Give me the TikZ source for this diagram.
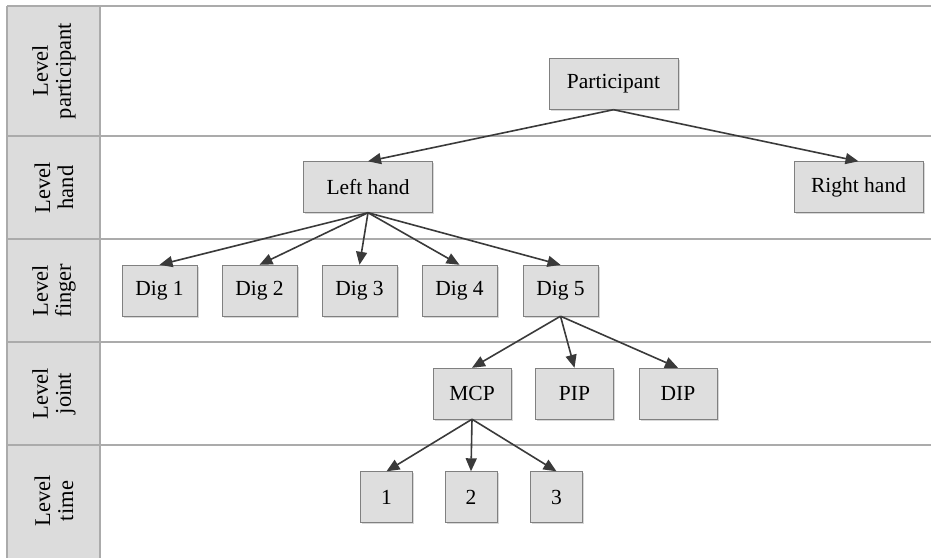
\documentclass[tikz,border=0pt]{standalone}
\usepackage{fontspec}
\setmainfont{Liberation Serif}
\usetikzlibrary{shadows,arrows.meta}
\definecolor{boxgray}{HTML}{DEDEDE}
\definecolor{colgray}{HTML}{DCDCDC}
\definecolor{rulegray}{HTML}{ABABAB}
\definecolor{edgegray}{HTML}{3A3A3A}

\begin{document}
\begin{tikzpicture}[x=1pt,y=-1pt,->,>={Triangle[length=13pt,width=11pt]}]
      \tikzstyle{box}=[draw=gray, fill=boxgray, minimum height=51pt, inner sep=0pt,
        font=\fontsize{21.5}{23}\selectfont, drop shadow={shadow xshift=1.5pt, shadow yshift=-1.5pt, fill=black!30}]
      \tikzstyle{level}=[rotate=90, align=center, font=\fontsize{22.5}{23}\selectfont]
      \tikzstyle{rule}=[-, draw=rulegray, line width=1.1pt]
      \tikzstyle{edge}=[draw=edgegray, fill=edgegray, line width=1.6pt]
      \useasboundingbox (0,0) rectangle (931,558);

      % level column and row rules
      \fill[colgray] (7,6) rectangle (100,558);
      \foreach \y in {6,136,239,342,445}
        \draw[rule] (7,\y) -- (931,\y);
      \draw[rule] (7,6) -- (7,558);
      \draw[rule] (100,6) -- (100,558);

      \foreach \name/\txt/\y in {part/participant/71, hand/hand/187.5, finger/finger/290.5, joint/joint/393.5, time/time/501}
        \node[level] (L-\name) at (54,\y) {Level\\\txt};

      % tree
      \foreach \name/\txt/\x/\y/\w in {part/Participant/613.5/84/129, left/Left hand/368/187/129, right/Right hand/858.5/187/129,
          d1/Dig 1/159.5/290.5/75, d2/Dig 2/259.5/290.5/75, d3/Dig 3/359.5/290.5/75, d4/Dig 4/459.5/290.5/75, d5/Dig 5/560.5/290.5/75,
          mcp/MCP/472/393.5/78, pip/PIP/574.5/393.5/78, dip/DIP/678/393.5/78,
          t1/1/386.5/497/52, t2/2/471/497/52, t3/3/556.5/497/52}
        \node[box, minimum width=\w pt] (G-\name) at (\x,\y) {\txt};

      \foreach \from/\to in {part/left, part/right, left/d1, left/d2, left/d3, left/d4, left/d5,
          d5/mcp, d5/pip, d5/dip, mcp/t1, mcp/t2, mcp/t3}
        \draw[edge] (G-\from.south) -- (G-\to.north);
    \end{tikzpicture}
\end{document}
